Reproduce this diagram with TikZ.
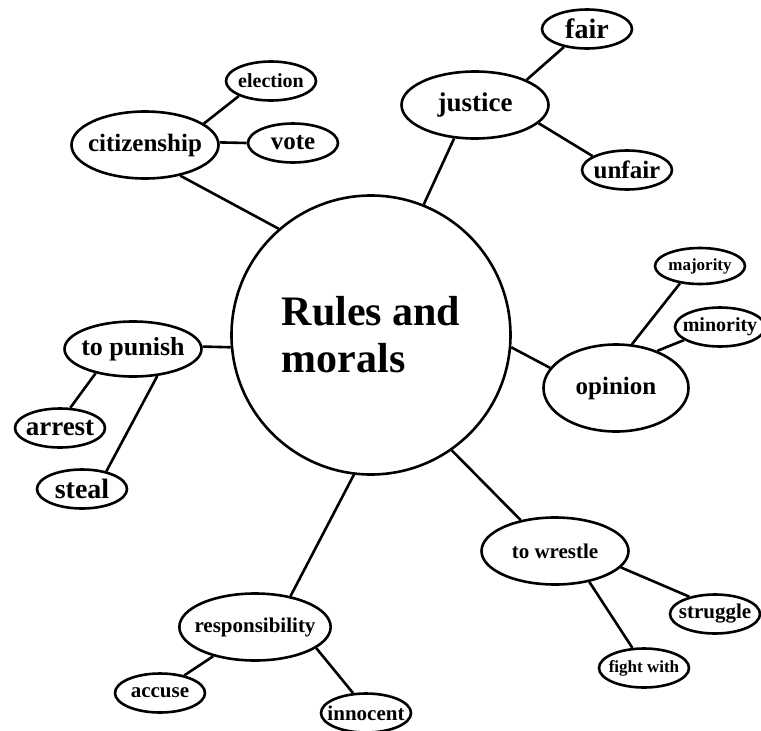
\documentclass[tikz,border=0pt]{standalone}
\usepackage{fontspec}
\setmainfont{Liberation Serif}
\usetikzlibrary{shapes.geometric,positioning}

\begin{document}
\begin{tikzpicture}[line width=2.6pt,on grid,
	bub/.style={ellipse,draw,inner xsep=-7pt,inner ysep=0pt},
	big/.style={bub,minimum width=147pt,minimum height=67pt},
	small/.style={bub,minimum width=90pt,minimum height=39pt},
	fs/.style={font=\fontsize{#1}{#1}\selectfont\bfseries}]
	\useasboundingbox (0,0) rectangle (761pt,-731pt);
	\node[circle,draw,minimum size=279pt,align=left,
		font=\fontsize{42}{47}\selectfont\bfseries] (main) at (371pt,-335pt) {Rules and\\morals};
	% upper left
	\node[big,fs=25] (cit) [above left=190pt and 226pt of main] {citizenship};
	\node[small,fs=20] (elect) [above right=64pt and 126pt of cit] {election};
	\node[small,fs=25] (vote) [above right=2pt and 148pt of cit] {vote};
	% top
	\node[big,fs=27] (just) [above right=230pt and 104pt of main] {justice};
	\node[small,fs=28] (fair) [above right=76pt and 112pt of just] {fair};
	\node[small,fs=25] (unfair) [below right=65pt and 152pt of just] {unfair};
	% left
	\node[bub,minimum width=137pt,minimum height=55pt,fs=26] (pun) [below left=14pt and 238pt of main] {to punish};
	\node[small,fs=27] (arrest) [below left=79pt and 73pt of pun] {arrest};
	\node[small,fs=28] (steal) [below left=140pt and 51pt of pun] {steal};
	% right
	\node[bub,minimum width=145pt,minimum height=87pt,fs=25] (opin) [below right=53pt and 245pt of main] {opinion};
	\node[small,minimum height=36pt,fs=17] (major) [above right=122pt and 84pt of opin] {majority};
	\node[small,fs=20] (minor) [above right=61pt and 104pt of opin] {minority};
	% lower right
	\node[big,fs=21] (wrest) [below right=216pt and 184pt of main] {to wrestle};
	\node[small,fs=21] (strug) [below right=63pt and 160pt of wrest] {struggle};
	\node[small,fs=17] (fight) [below right=117pt and 89pt of wrest] {fight with};
	% bottom
	\node[big,fs=21] (resp) [below left=292pt and 116pt of main] {responsibility};
	\node[small,fs=21] (accuse) [below left=66pt and 95pt of resp] {accuse};
	\node[small,fs=21] (innoc) [below right=86pt and 111pt of resp] {innocent};
	\path
	(main.131) edge (cit.-41)
	(cit.20)   edge (elect.-155)
	(cit.2)    edge (vote.180)
	(main.68)  edge (just.-122)
	(just.26)  edge (fair.-142)
	(just.-16) edge (unfair.158)
	(main.-175) edge (pun.2)
	(pun.-147) edge (arrest.63)
	(pun.-48)  edge (steal.36)
	(main.-5)  edge (opin.163)
	(opin.70)  edge (major.-139)
	(opin.42)  edge (minor.-160)
	(main.-55) edge (wrest.138)
	(wrest.-14) edge (strug.146)
	(wrest.-42) edge (fight.120)
	(main.-97) edge (resp.41)
	(resp.-145) edge (accuse.36)
	(resp.-19) edge (innoc.123)
	;
\end{tikzpicture}
\end{document}
